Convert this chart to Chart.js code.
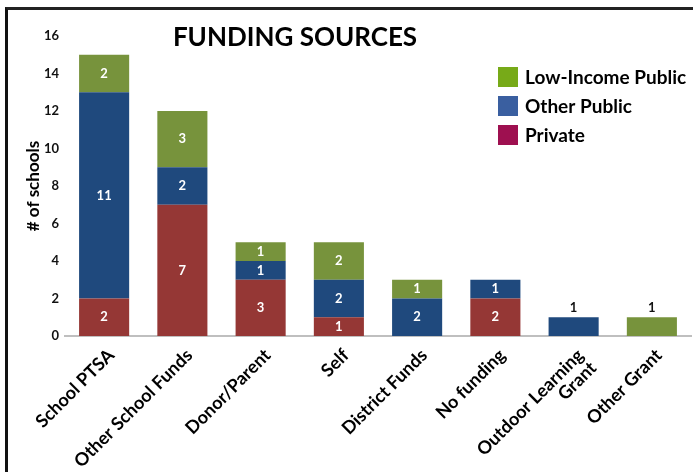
<!DOCTYPE html>
<html>
<head>
<meta charset="utf-8">
<script src="https://cdn.jsdelivr.net/npm/chart.js@4/dist/chart.umd.min.js"></script>
<style>
body { margin: 0; background: #fff; }
#wrap { position: relative; width: 693px; height: 472px; }
#frame { position: absolute; left: 5px; top: 7px; right: 0; bottom: 0; border-left: 3px solid #111; border-top: 3px solid #222; pointer-events: none; }
</style>
</head>
<body>
<div id="wrap">
<canvas id="chart" width="693" height="472"></canvas>
<div id="frame"></div>
</div>
<script>
var categories = ['School PTSA', 'Other School Funds', 'Donor/Parent', 'Self', 'District Funds', 'No funding', ['Outdoor Learning', 'Grant'], 'Other Grant'];
var privateVals = [2, 7, 3, 1, 0, 2, 0, 0];
var otherPublicVals = [11, 2, 1, 2, 2, 1, 1, 0];
var lowIncomeVals = [2, 3, 1, 2, 1, 0, 0, 1];
var yTicks = [0, 2, 4, 6, 8, 10, 12, 14, 16];

var barColors = { priv: '#953735', other: '#1F497D', low: '#77933C' };
var legendColors = { priv: '#9E1050', other: '#3A5FA0', low: '#77AA18' };
var fontFamily = 'Lato, "Open Sans", sans-serif';

// numbers in the bars, and the big title / legend drawn over the plot
var overlayPlugin = {
	id: 'overlay',
	afterDatasetsDraw: function(chart){
		var ctx = chart.ctx;
		ctx.save();
		ctx.textAlign = 'center';
		ctx.textBaseline = 'middle';
		ctx.font = 'bold 13px ' + fontFamily;
		chart.data.datasets.forEach(function(ds, di){
			var meta = chart.getDatasetMeta(di);
			meta.data.forEach(function(bar, i){
				var v = ds.data[i];
				if(!v) return;
				var n = chart.data.datasets.filter(function(d){ return d.data[i] > 0; }).length;
				if(n === 1 && v === 1){
					ctx.fillStyle = '#111';
					ctx.fillText(String(v), bar.x, bar.y - 9);
				} else {
					ctx.fillStyle = '#fff';
					ctx.fillText(String(v), bar.x, (bar.y + bar.base) / 2);
				}
			});
		});

		var area = chart.chartArea;
		ctx.fillStyle = '#000';
		ctx.font = 'bold 26px ' + fontFamily;
		ctx.fillText('FUNDING SOURCES', area.left + 230, area.top + 2);

		// legend, top right
		ctx.textAlign = 'left';
		ctx.font = 'bold 19px ' + fontFamily;
		var order = [2, 1, 0];
		var keys = ['priv', 'other', 'low'];
		order.forEach(function(di, k){
			var y = area.top + 31 + k * 29;
			ctx.fillStyle = legendColors[keys[di]];
			ctx.fillRect(area.left + 433, y, 20, 20);
			ctx.fillStyle = '#000';
			ctx.fillText(chart.data.datasets[di].label, area.left + 460, y + 11);
		});
		ctx.restore();
	}
};

new Chart(document.getElementById('chart'), {
	type: 'bar',
	data: {
		labels: categories,
		datasets: [
			{ label: 'Private', data: privateVals, backgroundColor: barColors.priv },
			{ label: 'Other Public', data: otherPublicVals, backgroundColor: barColors.other },
			{ label: 'Low-Income Public', data: lowIncomeVals, backgroundColor: barColors.low }
		]
	},
	options: {
		responsive: false,
		animation: false,
		layout: { padding: { top: 36, right: 2, left: 19, bottom: 0 } },
		datasets: { bar: { barPercentage: 0.64, categoryPercentage: 1.0 } },
		plugins: {
			legend: { display: false },
			title: { display: false },
			tooltip: { enabled: false }
		},
		scales: {
			x: {
				stacked: true,
				grid: { display: false },
				border: { display: true, color: '#BFBFBF', width: 2 },
				afterFit: function(axis){
					// labels run off the bottom/left like the original
					axis.height = 136;
					axis.paddingLeft = 0;
				},
				ticks: {
					color: '#000',
					font: { family: fontFamily, size: 18, weight: 'bold', lineHeight: 1.0 },
					maxRotation: 45,
					minRotation: 45,
					labelOffset: 7,
					padding: 2
				}
			},
			y: {
				stacked: true,
				min: 0,
				max: 16,
				afterBuildTicks: function(axis){
					axis.ticks = yTicks.map(function(v){ return { value: v }; });
				},
				afterFit: function(axis){
					axis.width = 46;
				},
				grid: { display: false, drawTicks: false },
				border: { display: false },
				ticks: {
					color: '#111',
					font: { family: fontFamily, size: 13, weight: 'bold' },
					padding: 6
				},
				title: {
					display: true,
					text: '# of schools',
					color: '#000',
					font: { family: fontFamily, size: 17, weight: 'bold' },
					padding: 4
				}
			}
		}
	},
	plugins: [overlayPlugin]
});
</script>
</body>
</html>
